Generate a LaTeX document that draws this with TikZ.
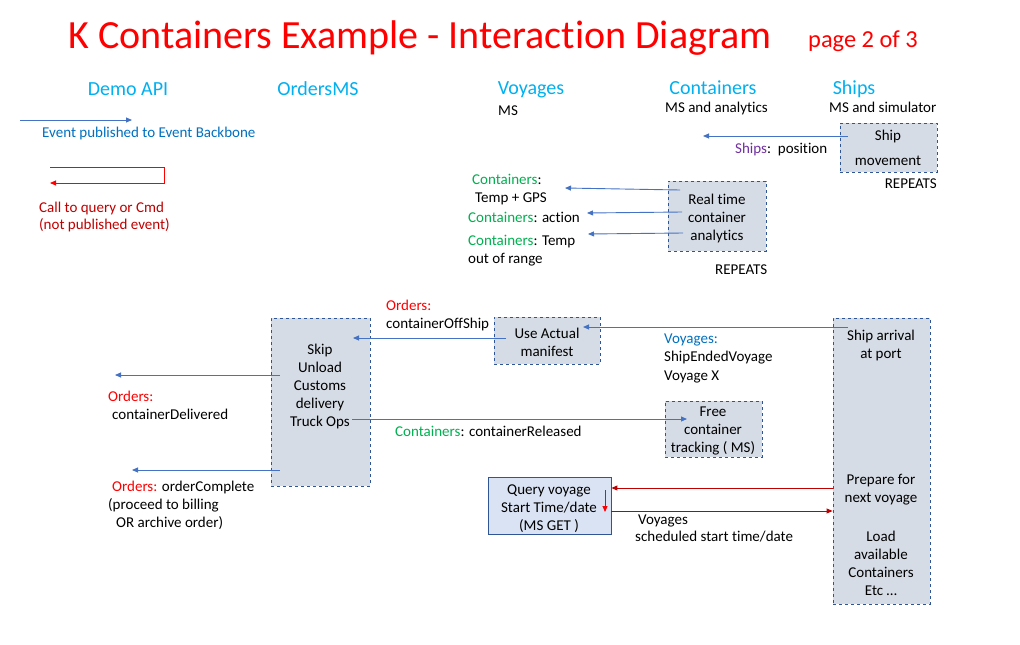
\documentclass[tikz,border=0pt]{standalone}
\usepackage{fontspec}
\setmainfont{Carlito}[Ligatures=NoCommon]
\usetikzlibrary{arrows.meta}
\definecolor{boxfill}{HTML}{D6DCE5}
\definecolor{boxline}{HTML}{2F5597}
\definecolor{qfill}{HTML}{DAE3F3}
\definecolor{arrblue}{HTML}{4472C4}
\definecolor{hdrblue}{HTML}{00B0F0}
\definecolor{evblue}{HTML}{0070C0}
\definecolor{cgreen}{HTML}{00B050}
\definecolor{ored}{HTML}{FF0000}
\definecolor{dred}{HTML}{C00000}
\definecolor{spurple}{HTML}{7030A0}
\tikzset{
  dbox/.style={draw=boxline, fill=boxfill, dashed, line width=0.8pt, inner sep=0pt},
  qbox/.style={draw=boxline, fill=qfill, line width=0.8pt, inner sep=0pt},
  body/.style={font=\fontsize{15}{18}\selectfont, inner sep=0pt, text=black},
  mbody/.style={body, align=center, yshift=-2pt},
  lt/.style={body, anchor=west, text height=13pt, text depth=2pt},
  hdr/.style={font=\fontsize{20}{23}\selectfont, text=hdrblue, inner sep=0pt, text height=16pt, text depth=3pt},
  barrow/.style={draw=arrblue, line width=0.9pt, -{Triangle[length=6pt,width=5pt]}},
  rarrow/.style={draw=dred, line width=0.9pt, -{Triangle[length=6pt,width=5pt]}},
}
\begin{document}
\begin{tikzpicture}[x=1pt,y=-1pt]
\useasboundingbox[fill=white] (0,0) rectangle (1020,645);

% title
\node[font=\fontsize{40}{44}\selectfont, text=ored, anchor=base west, inner sep=0pt] (title) at (68,48) {K Containers Example - Interaction Diagram};
\node[font=\fontsize{24.4}{28}\selectfont, text=ored, anchor=base west, inner sep=0pt] (page) at (808,47) {page 2 of 3};

% headers
\node[hdr] (hdemo) at (128,89) {Demo API};
\node[hdr] (horders) at (318,89) {OrdersMS};
\node[hdr] (hvoy) at (531,88) {Voyages};
\node[hdr] (hcont) at (713,88) {Containers};
\node[hdr] (hships) at (854,88) {Ships};
\node[lt] (svoy) at (498,110) {MS};
\node[lt] (scont) at (665,107) {MS and analytics};
\node[lt] (sships) at (829,107) {MS and simulator};

% legend
\coordinate (lg1) at (20,120);
\coordinate (lg2) at (132,120);
\draw[barrow] (lg1) -- (lg2);
\node[lt, text=evblue] (lgev) at (42,132) {Event published to Event Backbone};
\coordinate (lr1) at (50,167);
\coordinate (lr2) at (164,167);
\coordinate (lr3) at (164,183);
\coordinate (lr4) at (50,183);
\draw[rarrow, draw=ored] (lr1) -- (lr2) -- (lr3) -- (lr4);
\node[lt, text=dred] (lgc1) at (39,207) {Call to query or Cmd};
\node[lt, text=dred] (lgc2) at (39,224) {(not published event)};

% Ship movement
\node[dbox, minimum width=97pt, minimum height=49pt] (shipmov) at (888.5,147.5) {};
\node[mbody] (shipmovt) at (888,145.5) {Ship\\[7pt]movement};
\node[lt, anchor=east] (rep1) at (937,183) {REPEATS};
\coordinate (sposs) at (848,136);
\coordinate (spos) at (703,136);
\draw[barrow] (sposs) -- (spos);
\node[lt] (sposl) at (735,148) {\textcolor{spurple}{Ships}:\ \ position};

% Real time analytics
\node[dbox, minimum width=98pt, minimum height=70pt] (rta) at (717,216) {};
\node[mbody] (rtat) at (717,216) {Real time\\container\\analytics};
\node[lt] (rep2) at (715,269) {REPEATS};
\coordinate (rta1s) at (680,190);
\coordinate (rta1e) at (565,188);
\coordinate (rta2s) at (682,212);
\coordinate (rta2e) at (587,213);
\coordinate (rta3s) at (683,233);
\coordinate (rta3e) at (588,234);
\draw[barrow] (rta1s) -- (rta1e);
\draw[barrow] (rta2s) -- (rta2e);
\draw[barrow] (rta3s) -- (rta3e);
\node[lt, text=cgreen] (c1a) at (472,179) {Containers\textcolor{black}{:}};
\node[lt] (c1b) at (475,197) {Temp + GPS};
\node[lt] (c2) at (468,217) {\textcolor{cgreen}{Containers}: action};
\node[lt] (c3a) at (468,240) {\textcolor{cgreen}{Containers}: Temp};
\node[lt] (c3b) at (468,258) {out of range};

% OrdersMS box
\node[dbox, minimum width=99pt, minimum height=168pt] (ordbox) at (320.5,402) {};
\node[mbody] (ordt) at (320,384) {Skip\\Unload\\Customs\\delivery\\Truck Ops};

% Use actual manifest
\node[dbox, minimum width=106pt, minimum height=47pt] (uam) at (547,340.5) {};
\node[mbody] (uamt) at (547,340) {Use Actual\\manifest};

% Ship arrival tall box
\node[dbox, minimum width=97pt, minimum height=286pt] (sarr) at (881.5,461) {};
\node[mbody] (sarrt) at (881,343) {Ship arrival\\at port};
\node[mbody] (sprep) at (881,488) {Prepare for\\next voyage};
\node[mbody] (sload) at (881,561) {Load\\available\\Containers\\Etc \dots};

% Free container tracking
\node[dbox, minimum width=97pt, minimum height=56pt] (fct) at (713.5,429) {};
\node[mbody] (fctt) at (713,429) {Free\\container\\tracking ( MS)};

% Query voyage
\node[qbox, minimum width=123pt, minimum height=57pt] (qv) at (549.5,505.5) {};
\node[mbody] (qvt) at (549,506.5) {Query voyage\\Start Time/date\\(MS GET )};

% arrows lower part
\coordinate (a1s) at (848,327);
\coordinate (a1e) at (583,327);
\draw[barrow] (a1s) -- (a1e);
\coordinate (a2s) at (506,338);
\coordinate (a2e) at (353,338);
\draw[barrow] (a2s) -- (a2e);
\coordinate (od1) at (115,375);
\coordinate (od2) at (132,470);
\coordinate (a3s) at (280,375);
\coordinate (a4s) at (280,470);
\draw[barrow] (a3s) -- (od1);
\draw[barrow] (a4s) -- (od2);
\coordinate (a5s) at (352,419);
\coordinate (a5e) at (687,419);
\draw[barrow] (a5s) -- (a5e);
\draw[rarrow] (sarr.west |- 0,488) -- (qv.east |- 0,488);
\draw[rarrow] (qv.east |- 0,511) -- (sarr.west |- 0,511);
\coordinate (qd1) at (605,490);
\coordinate (qd2) at (605,512);
\draw[rarrow, draw=ored] (qd1) -- (qd2);

% labels lower part
\node[lt, text=ored] (lo1) at (386,305) {Orders:};
\node[lt] (lo2) at (386,323) {containerOffShip};
\node[lt, text=evblue] (lv1) at (664,338) {Voyages:};
\node[lt] (lv2) at (664,356) {ShipEndedVoyage};
\node[lt] (lv3) at (664,375) {Voyage X};
\node[lt, text=ored] (ld1) at (108,396) {Orders:};
\node[lt] (ld2) at (112,414) {containerDelivered};
\node[lt] (lcr) at (395,431) {\textcolor{cgreen}{Containers}: containerReleased};
\node[lt] (loc1) at (112,486) {\textcolor{ored}{Orders:} orderComplete};
\node[lt] (loc2) at (108,504) {(proceed to billing};
\node[lt] (loc3) at (116,522) {OR archive order)};
\node[lt] (lsv1) at (638,519) {Voyages};
\node[lt] (lsv2) at (635,536) {scheduled start time/date};
\end{tikzpicture}
\end{document}
